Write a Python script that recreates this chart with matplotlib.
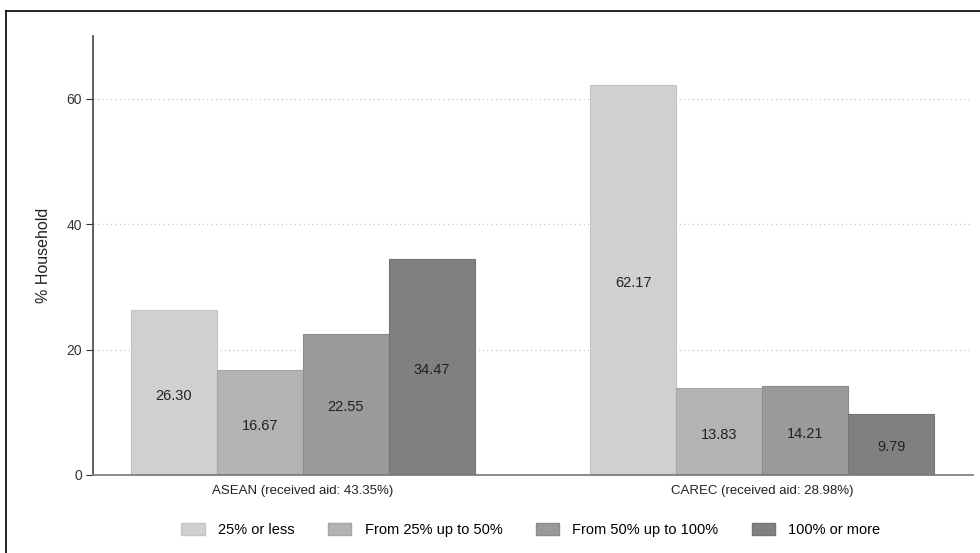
import numpy as np
import matplotlib.pyplot as plt
from matplotlib.patches import Patch

# share of households by aid received relative to loss
groups = ['ASEAN (received aid: 43.35%)', 'CAREC (received aid: 28.98%)']
categories = ['25% or less', 'From 25% up to 50%', 'From 50% up to 100%', '100% or more']
asean = [26.30, 16.67, 22.55, 34.47]
carec = [62.17, 13.83, 14.21, 9.79]
colors = ['#d0d0d0', '#b3b3b3', '#9a9a9a', '#808080']
edges = ['#c4c4c4', '#a6a6a6', '#8c8c8c', '#747474']

plt.rcParams['font.family'] = ['Liberation Sans', 'DejaVu Sans']

fig = plt.figure(figsize=(9.8, 5.53), dpi=100)
ax = fig.add_axes([93/980, 1-475/553, 880/980, 439/553])

group_start = [0.0, 5.34]
for g, vals in enumerate([asean, carec]):
    for i, v in enumerate(vals):
        x = group_start[g] + i
        ax.bar(x, v, width=1.0, color=colors[i], edgecolor=edges[i], linewidth=0.8, zorder=2)
        ax.text(x, v/2 - 0.5, '%.2f' % v, ha='center', va='center', fontsize=10.5, color='#222222', zorder=3)

ax.set_xlim(-0.94, 9.29)
ax.set_ylim(0, 70)
ax.set_yticks([0, 20, 40, 60])
ax.tick_params(axis='y', labelsize=10, colors='#333333', length=5, width=0.8, pad=3)
ax.set_xticks([g + 1.5 for g in group_start])
ax.set_xticklabels(groups, fontsize=9.5)
ax.tick_params(axis='x', length=0, pad=7, colors='#222222')
ax.set_ylabel('% Household', fontsize=11.5, labelpad=11, color='#222222')
ax.yaxis.grid(True, linestyle=(0, (1, 2.5)), color='#c8c8c8', linewidth=0.9, zorder=0)
for s in ['top', 'right']:
    ax.spines[s].set_visible(False)
ax.spines['left'].set_color('#444444')
ax.spines['left'].set_linewidth(1.2)
ax.spines['bottom'].set_color('#777777')
ax.spines['bottom'].set_linewidth(1.2)

handles = [Patch(facecolor=colors[i], edgecolor=edges[i], label=categories[i]) for i in range(4)]
fig.legend(handles=handles, loc='center', bbox_to_anchor=(531/980, 1-530/553), ncol=4, frameon=False,
           fontsize=10.5, handlelength=1.6, handleheight=0.9, columnspacing=2.3, handletextpad=0.9)

# outer frame: only left and top edges show in the reference
fig.add_artist(plt.Line2D([6/980, 6/980], [0, 1-11/553], transform=fig.transFigure, color='black', linewidth=1.2))
fig.add_artist(plt.Line2D([6/980, 1], [1-11/553, 1-11/553], transform=fig.transFigure, color='black', linewidth=1.2))

fig.savefig('out.png', dpi=100)
